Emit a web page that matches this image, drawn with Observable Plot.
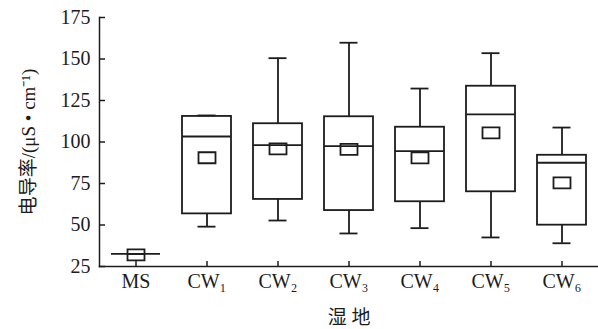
<!DOCTYPE html>
<html>
<head>
<meta charset="utf-8">
<script src="https://cdn.jsdelivr.net/npm/d3@7"></script>
<script src="https://cdn.jsdelivr.net/npm/@observablehq/plot@0.6"></script>
<style>
  html, body { margin: 0; padding: 0; background: #fff; }
</style>
</head>
<body>
<div id="chart"></div>
<script>
// Electrical conductivity (μS·cm⁻¹) by wetland: box = quartiles, line = median,
// whiskers = range, small square = mean.
const sites       = ["MS", "CW₁", "CW₂", "CW₃", "CW₄", "CW₅", "CW₆"];
const whiskerLow  = [32.6, 49.0, 52.7, 44.9, 48.1, 42.5, 39.0];
const quartile1   = [32.6, 56.7, 65.4, 58.7, 64.0, 70.0, 49.9];
const medians     = [32.6, 103.3, 98.1, 97.5, 94.5, 116.6, 87.5];
const quartile3   = [32.6, 115.4, 111.0, 115.2, 108.9, 133.6, 92.0];
const whiskerHigh = [32.6, 116.0, 150.5, 159.8, 132.2, 153.5, 108.7];
const means       = [32.0, 90.5, 95.9, 95.6, 90.4, 105.5, 75.4];
const yTicks      = [25, 50, 75, 100, 125, 150, 175];

const rows = sites.map((site, i) => ({
  site,
  lo: whiskerLow[i],
  q1: quartile1[i],
  med: medians[i],
  q3: quartile3[i],
  hi: whiskerHigh[i],
  mean: means[i]
}));

const ink = "#1c1c1c";
const lw = 1.8;

// hollow rectangle used for the mean marker
const meanBox = {
  draw(context) {
    context.rect(-8.5, -5.5, 17, 11);
  }
};

const chart = Plot.plot({
  width: 598,
  height: 329,
  marginTop: 17,
  marginRight: 0,
  marginBottom: 63,
  marginLeft: 99,
  style: {
    fontFamily: "'Liberation Serif', 'Noto Sans CJK SC', serif",
    color: ink,
    background: "#fff"
  },
  x: { domain: sites, padding: 0 },
  y: { domain: [25, 175] },
  marks: [
    // whiskers
    Plot.ruleX(rows, { x: "site", y1: "lo", y2: "q1", stroke: ink, strokeWidth: lw }),
    Plot.ruleX(rows, { x: "site", y1: "q3", y2: "hi", stroke: ink, strokeWidth: lw }),
    Plot.tickY(rows, { x: "site", y: "lo", insetLeft: 26.5, insetRight: 26.5, stroke: ink, strokeWidth: lw }),
    Plot.tickY(rows, { x: "site", y: "hi", insetLeft: 26.5, insetRight: 26.5, stroke: ink, strokeWidth: lw }),
    // interquartile box
    Plot.barY(rows, { x: "site", y1: "q1", y2: "q3", insetLeft: 11, insetRight: 11, fill: "none", stroke: ink, strokeWidth: lw }),
    // median line
    Plot.tickY(rows, { x: "site", y: "med", insetLeft: 11, insetRight: 11, stroke: ink, strokeWidth: lw }),
    // mean marker
    Plot.dot(rows, { x: "site", y: "mean", symbol: meanBox, fill: "none", stroke: ink, strokeWidth: lw }),
    // axis lines
    Plot.frame({ anchor: "left", stroke: ink, strokeWidth: 1.5 }),
    Plot.frame({ anchor: "bottom", stroke: ink, strokeWidth: 1.5 }),
    Plot.axisY({
      ticks: yTicks,
      tickSize: -6,
      tickPadding: 15,
      fontSize: 20,
      label: null,
      stroke: ink,
      strokeWidth: 1.5
    }),
    Plot.axisX({
      tickSize: -5,
      tickPadding: 12,
      fontSize: 20,
      label: null,
      stroke: ink,
      strokeWidth: 1.5
    }),
    // x-axis title
    Plot.text(["湿 地"], {
      frameAnchor: "bottom",
      textAnchor: "middle",
      lineAnchor: "bottom",
      dy: 57,
      fontSize: 19,
      fill: ink
    }),
    // y-axis title
    Plot.text(["电导率/(μS • cm⁻¹)"], {
      frameAnchor: "left",
      textAnchor: "middle",
      lineAnchor: "middle",
      rotate: -90,
      dx: -71,
      fontSize: 19,
      fill: ink
    })
  ]
});

document.getElementById("chart").appendChild(chart);
</script>
</body>
</html>
